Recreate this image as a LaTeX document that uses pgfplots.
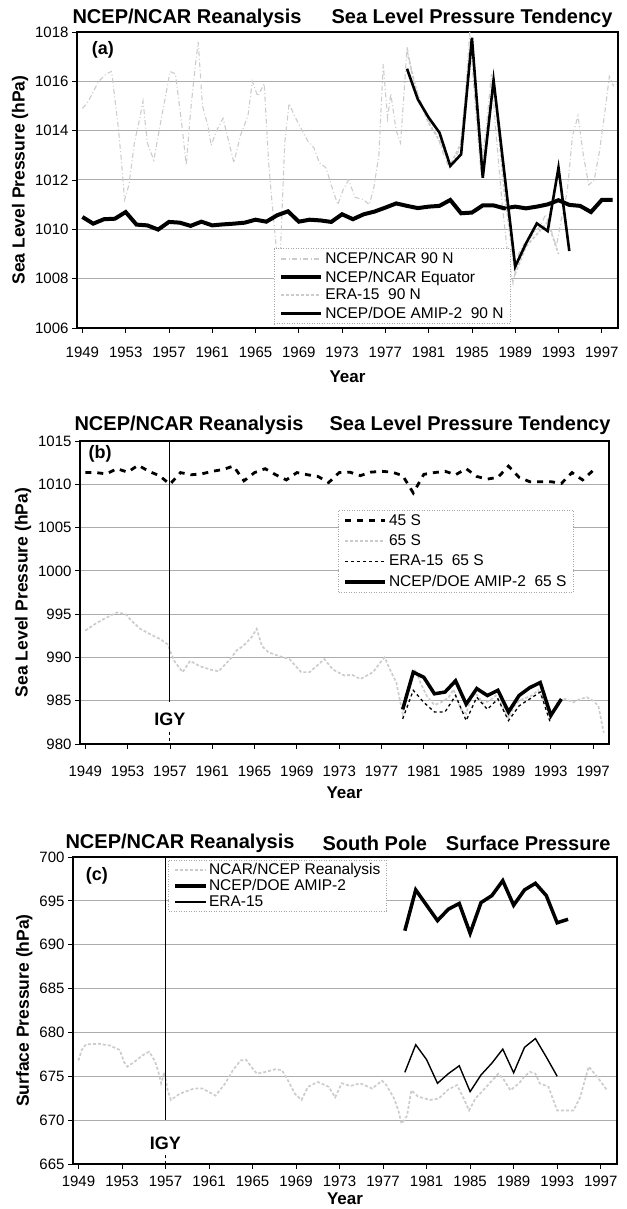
\documentclass[border=0pt]{standalone}
\usepackage{pgfplots}
\pgfplotsset{compat=1.18}
\usepackage{fontspec}
\setmainfont{Liberation Sans}

\tikzset{
 grayA/.style={gray!40, line width=1.1pt, dash pattern=on 5pt off 2.5pt on 1pt off 2.5pt},
 grayB/.style={gray!40, line width=1.7pt, dash pattern=on 3pt off 2pt},
 panellabel/.style={font=\bfseries\fontsize{18}{20}\selectfont},
 titlefont/.style={font=\bfseries\fontsize{20}{22}\selectfont},
}
\pgfplotsset{
 myaxis/.style={
   scale only axis,
   anchor=south west,
   xmin=1948.5, xmax=1998.5,
   xtick={1949,1953,...,1997},
   xticklabels={1949,1953,1957,1961,1965,1969,1973,1977,1981,1985,1989,1993,1997},
   minor x tick num=3,
   tick align=outside,
   tick pos=left,
   major tick length=5pt, minor tick length=4pt,
   every tick/.style={black, line width=0.8pt},
   axis line style={line width=2.5pt},
   ymajorgrids, grid style={gray!65, line width=1pt},
   ticklabel style={font=\fontsize{15}{17}\selectfont},
   /pgf/number format/assume math mode=true,
   /pgf/number format/1000 sep={},
   xlabel={Year},
   xlabel style={font=\bfseries\fontsize{17}{19}\selectfont},
   ylabel style={font=\bfseries\fontsize{17.5}{19}\selectfont},
   legend cell align=left,
   legend image code/.code={\draw[##1] (0pt,0pt) -- (40pt,0pt);},
   legend style={fill=white, draw=gray!70, line width=0.7pt, dash pattern=on 1pt off 1.5pt,
     font=\fontsize{15.5}{17}\selectfont, nodes={inner sep=2pt}, row sep=1.5pt,
     inner xsep=5pt},
 },
}

\begin{document}
\begin{tikzpicture}[x=1pt,y=1pt]
\useasboundingbox (0,0) rectangle (626,1209);

% ---------- titles ----------
\node[titlefont, anchor=west] at (69,1191) {NCEP/NCAR Reanalysis};
\node[titlefont, anchor=east] at (616,1191) {Sea Level Pressure Tendency};
\node[titlefont, anchor=west] at (71,784) {NCEP/NCAR Reanalysis};
\node[titlefont, anchor=east] at (614,784) {Sea Level Pressure Tendency};
\node[titlefont, anchor=west] at (62,366) {NCEP/NCAR Reanalysis};
\node[titlefont, anchor=west] at (319,366) {South Pole};
\node[titlefont, anchor=east] at (614,366) {Surface Pressure};

% ---------- panel (a) ----------
\begin{axis}[myaxis, at={(77pt,881pt)}, width=541pt, height=296pt,
  ymin=1006, ymax=1018, ytick={1006,1008,...,1018},
  xticklabel style={yshift=-11pt}, xlabel style={yshift=-6pt},
  ylabel={Sea Level Pressure (hPa)},
  legend style={at={(0.364,0.0135)}, anchor=south west}]
\addplot[grayA] coordinates {
(1949.0,1014.9) (1949.4,1015.1) (1949.8,1015.4) (1950.5,1016.0) (1951.2,1016.3) (1951.7,1016.4)
(1952.3,1014.2) (1952.6,1012.8) (1952.9,1011.2) (1953.3,1011.8) (1953.8,1013.5) (1954.3,1014.5)
(1954.6,1015.2) (1955.0,1013.5) (1955.6,1012.8) (1956.0,1013.8) (1956.6,1015.2) (1957.1,1016.4)
(1957.6,1016.3) (1958.2,1014.2) (1958.6,1012.6) (1959.0,1014.8) (1959.4,1016.5) (1959.7,1017.6)
(1960.1,1015.0) (1960.6,1014.2) (1960.9,1013.4) (1961.4,1014.0) (1962.0,1014.5) (1962.5,1013.6)
(1963.0,1012.7) (1963.6,1013.8) (1964.3,1014.6) (1964.7,1016.0) (1965.2,1015.4) (1965.8,1015.9)
(1966.2,1012.8) (1966.5,1011.2) (1966.8,1009.8) (1967.2,1008.0) (1967.7,1013.5) (1968.1,1015.1)
(1968.6,1014.6) (1969.2,1014.1) (1969.8,1013.6) (1970.4,1013.3) (1970.9,1012.7) (1971.5,1012.5)
(1972.0,1011.8) (1972.6,1011.0) (1973.1,1011.6) (1973.6,1012.0) (1974.2,1011.3) (1975.0,1011.2)
(1975.5,1011.0) (1975.9,1011.6) (1976.4,1013.0) (1976.8,1016.7) (1977.2,1014.5) (1977.5,1015.5)
(1978.0,1014.0) (1978.4,1013.5) (1978.8,1016.0) (1979.0,1017.4) (1979.5,1016.2) (1980.0,1015.5)
(1980.6,1014.8) (1981.2,1014.2) (1981.8,1013.8) (1982.4,1013.0) (1982.9,1012.5) (1983.4,1012.8)
(1983.9,1013.3) (1984.4,1015.5) (1984.8,1018.0) (1985.3,1015.0) (1985.8,1012.5) (1986.3,1014.0)
(1986.8,1016.3) (1987.3,1013.5) (1987.8,1011.0) (1988.3,1009.0) (1988.8,1007.8) (1989.3,1009.0)
(1989.8,1009.4) (1990.3,1009.6) (1990.8,1009.9) (1991.3,1010.1) (1991.8,1010.6) (1992.3,1010.0)
(1992.8,1009.3) (1993.3,1010.5) (1993.8,1011.5) (1994.3,1013.8) (1994.8,1014.6) (1995.3,1013.0)
(1995.8,1011.8) (1996.3,1012.0) (1996.8,1013.2) (1997.3,1014.8) (1997.7,1016.2) (1998.1,1015.8)};
\addlegendentry{NCEP/NCAR 90 N}
\addplot[black, solid, line width=4pt] coordinates {
(1949,1010.50) (1950,1010.23) (1951,1010.41) (1952,1010.43) (1953,1010.70) (1954,1010.19)
(1955,1010.16) (1956,1009.99) (1957,1010.30) (1958,1010.27) (1959,1010.14) (1960,1010.31)
(1961,1010.16) (1962,1010.20) (1963,1010.23) (1964,1010.27) (1965,1010.39) (1966,1010.31)
(1967,1010.57) (1968,1010.73) (1969,1010.31) (1970,1010.39) (1971,1010.36) (1972,1010.30)
(1973,1010.61) (1974,1010.41) (1975,1010.61) (1976,1010.72) (1977,1010.88) (1978,1011.05)
(1979,1010.95) (1980,1010.86) (1981,1010.92) (1982,1010.95) (1983,1011.19) (1984,1010.65)
(1985,1010.68) (1986,1010.97) (1987,1010.97) (1988,1010.85) (1989,1010.92) (1990,1010.85)
(1991,1010.92) (1992,1011.01) (1993,1011.18) (1994,1010.99) (1995,1010.95) (1996,1010.70)
(1997,1011.19) (1998,1011.19)};
\addlegendentry{NCEP/NCAR Equator}
\addplot[grayB] coordinates {
(1979,1017.2) (1980,1015.4) (1981,1014.3) (1982,1013.6) (1983,1012.6) (1984,1013.5)
(1985,1017.6) (1986,1012.6) (1987,1016.0) (1988,1011.5) (1989,1008.2) (1990,1009.3)
(1991,1009.8) (1992,1010.3) (1993,1009.0)};
\addlegendentry{ERA-15\ \ 90 N}
\addplot[black, solid, line width=2.6pt] coordinates {
(1979,1016.51) (1980,1015.27) (1981,1014.53) (1982,1013.92) (1983,1012.57) (1984,1013.04)
(1985,1017.77) (1986,1012.09) (1987,1016.05) (1988,1012.27) (1989,1008.49) (1990,1009.43)
(1991,1010.24) (1992,1009.93) (1993,1012.50) (1994,1009.12)};
\addlegendentry{NCEP/DOE AMIP-2\ \ 90 N}
\node[panellabel] at (rel axis cs:0.048,0.939) {(a)};
\end{axis}

% ---------- panel (b) ----------
\begin{axis}[myaxis, at={(80pt,465pt)}, width=529pt, height=303pt,
  ymin=980, ymax=1015, ytick={980,985,...,1015},
  xticklabel style={yshift=-13pt}, xlabel style={yshift=-4pt},
  ylabel={Sea Level Pressure (hPa)},
  legend style={at={(0.488,0.772)}, anchor=north west, row sep=4pt}]
\addplot[black, line width=2.8pt, dash pattern=on 6pt off 6pt] coordinates {
(1949,1011.35) (1950,1011.35) (1951,1011.2) (1952,1011.8) (1953,1011.4) (1954,1012.2)
(1955,1011.5) (1956,1011.0) (1957,1010.0) (1958,1011.35) (1959,1011.1) (1960,1011.2)
(1961,1011.5) (1962,1011.7) (1963,1012.1) (1964,1010.4) (1965,1011.35) (1966,1011.8)
(1967,1011.1) (1968,1010.5) (1969,1011.35) (1970,1011.1) (1971,1010.9) (1972,1010.2)
(1973,1011.35) (1974,1011.4) (1975,1011.0) (1976,1011.4) (1977,1011.5) (1978,1011.4)
(1979,1011.0) (1980,1009.0) (1981,1011.15) (1982,1011.35) (1983,1011.5) (1984,1011.1)
(1985,1011.8) (1986,1010.9) (1987,1010.6) (1988,1010.8) (1989,1012.1) (1990,1010.8)
(1991,1010.3) (1992,1010.3) (1993,1010.3) (1994,1010.1) (1995,1011.35) (1996,1010.5)
(1997,1011.6)};
\addlegendentry{45 S}
\addplot[grayB] coordinates {
(1949.0,993.1) (1950.1,994.0) (1951.0,994.6) (1952.0,995.2) (1952.8,995.0) (1953.4,994.2)
(1954.2,993.3) (1955.1,992.7) (1956.1,992.1) (1956.8,991.5) (1957.1,990.5) (1957.4,989.6)
(1958.2,988.3) (1958.9,989.6) (1959.8,989.0) (1960.8,988.6) (1961.6,988.4) (1962.7,989.8)
(1963.3,990.8) (1963.9,991.3) (1964.7,992.3) (1965.2,993.3) (1965.7,991.3) (1966.3,990.6)
(1967.2,990.2) (1968.3,989.8) (1969.4,988.3) (1970.2,988.3) (1971.6,989.8) (1972.4,988.6)
(1973.5,987.9) (1974.2,988.0) (1975.0,987.5) (1976.2,988.3) (1977.0,989.6) (1977.3,990.0)
(1977.8,988.6) (1978.4,987.1) (1979.0,983.5) (1979.6,986.5) (1980.2,988.6) (1980.7,987.0)
(1981.3,985.5) (1982.0,984.5) (1982.6,984.8) (1983.3,985.3) (1983.8,986.3) (1984.5,984.0)
(1985.0,983.5) (1985.5,985.5) (1986.0,985.7) (1986.6,984.7) (1987.2,985.0) (1987.8,985.6)
(1988.4,984.5) (1989.0,983.0) (1989.5,984.3) (1990.0,985.0) (1990.6,985.3) (1991.2,985.6)
(1991.8,986.2) (1992.4,985.0) (1993.0,983.0) (1993.7,985.0) (1994.4,985.2) (1995.1,984.8)
(1995.8,985.2) (1996.4,985.4) (1997.0,985.0) (1997.5,984.4) (1998.0,981.3)};
\addlegendentry{65 S}
\addplot[black, line width=1.3pt, dash pattern=on 3pt off 3pt] coordinates {
(1979,982.9) (1980,986.2) (1981,984.8) (1982,983.7) (1983,983.7) (1984,985.6) (1985,982.7)
(1986,985.4) (1987,984.0) (1988,985.2) (1989,982.7) (1990,984.4) (1991,985.2) (1992,986.0)
(1993,982.3)};
\addlegendentry{ERA-15\ \ 65 S}
\addplot[black, solid, line width=3.5pt] coordinates {
(1979,984.0) (1980,988.3) (1981,987.7) (1982,985.8) (1983,986.0) (1984,987.3) (1985,984.6)
(1986,986.4) (1987,985.6) (1988,986.2) (1989,983.7) (1990,985.6) (1991,986.5) (1992,987.1)
(1993,983.3) (1994,985.2)};
\addlegendentry{NCEP/DOE AMIP-2\ \ 65 S}
\addplot[black, solid, line width=0.9pt, forget plot] coordinates {(1957,1015) (1957,984.9)};
\addplot[black, line width=0.9pt, dash pattern=on 3pt off 3pt, forget plot] coordinates {(1957,981.4) (1957,980)};
\node[font=\bfseries\fontsize{18}{20}\selectfont] at (axis cs:1957,982.9) {IGY};
\node[panellabel] at (rel axis cs:0.038,0.957) {(b)};
\end{axis}

% ---------- panel (c) ----------
\begin{axis}[myaxis, at={(73pt,45pt)}, width=544pt, height=307pt,
  ymin=665, ymax=700, ytick={665,670,...,700},
  xticklabel style={yshift=-3pt},
  ylabel={Surface Pressure (hPa)},
  legend style={at={(0.175,0.99)}, anchor=north west, row sep=1.5pt, nodes={inner sep=1pt}},
  legend image code/.code={\draw[#1] (0pt,0pt) -- (31pt,0pt);}]
\addplot[grayB] coordinates {
(1949.0,676.8) (1949.3,678.0) (1949.7,678.65) (1950.9,678.7) (1951.9,678.5) (1952.8,678.0)
(1953.2,676.6) (1953.5,676.1) (1954.1,676.6) (1954.9,677.4) (1955.5,677.8) (1956.0,676.8)
(1956.3,675.7) (1956.6,674.2) (1956.9,675.5) (1957.2,673.4) (1957.5,672.3) (1958.3,673.0)
(1959.6,673.6) (1960.4,673.6) (1961.6,672.8) (1962.5,674.2) (1963.2,675.7) (1963.9,676.8)
(1964.4,676.9) (1965.0,675.9) (1965.4,675.3) (1966.2,675.5) (1967.1,675.8) (1967.7,675.7)
(1968.1,674.9) (1968.9,673.0) (1969.5,672.3) (1970.1,673.8) (1971.0,674.35) (1972.0,673.8)
(1972.6,672.6) (1973.2,674.2) (1974.0,673.9) (1974.9,674.2) (1976.0,673.6) (1976.9,674.5)
(1977.3,674.0) (1978.0,672.5) (1978.4,671.1) (1978.7,669.6) (1979.2,670.5) (1979.6,673.4)
(1980.2,672.7) (1981.3,672.3) (1982.1,672.45) (1983.0,673.5) (1983.8,674.0) (1984.4,672.5)
(1984.9,671.1) (1985.5,672.5) (1986.5,673.8) (1987.0,674.5) (1987.6,675.3) (1988.1,674.6)
(1988.7,673.4) (1989.5,674.2) (1990.0,675.0) (1990.5,675.5) (1991.0,675.3) (1991.4,674.2)
(1992.2,673.8) (1993.0,671.1) (1994.5,671.1) (1995.1,672.6) (1995.9,676.1) (1996.7,674.9)
(1997.6,673.4)};
\addlegendentry{NCAR/NCEP Reanalysis}
\addplot[black, solid, line width=3.5pt] coordinates {
(1979,691.6) (1980,696.25) (1981,694.5) (1982,692.75) (1983,694.05) (1984,694.7) (1985,691.3)
(1986,694.8) (1987,695.6) (1988,697.3) (1989,694.5) (1990,696.25) (1991,697.0) (1992,695.6)
(1993,692.5) (1994,692.9)};
\addlegendentry{NCEP/DOE AMIP-2}
\addplot[black, solid, line width=1.4pt] coordinates {
(1979,675.45) (1980,678.6) (1981,676.9) (1982,674.2) (1983,675.3) (1984,676.2) (1985,673.25)
(1986,675.15) (1987,676.5) (1988,678.1) (1989,675.4) (1990,678.3) (1991,679.3) (1992,677.2)
(1993,675.0)};
\addlegendentry{ERA-15}
\addplot[black, solid, line width=0.9pt, forget plot] coordinates {(1957,700) (1957,670)};
\addplot[black, line width=0.9pt, dash pattern=on 3pt off 3pt, forget plot] coordinates {(1957,666.0) (1957,665)};
\node[font=\bfseries\fontsize{18}{20}\selectfont] at (axis cs:1957,667.4) {IGY};
\node[panellabel] at (rel axis cs:0.044,0.938) {(c)};
\end{axis}
\end{tikzpicture}
\end{document}
